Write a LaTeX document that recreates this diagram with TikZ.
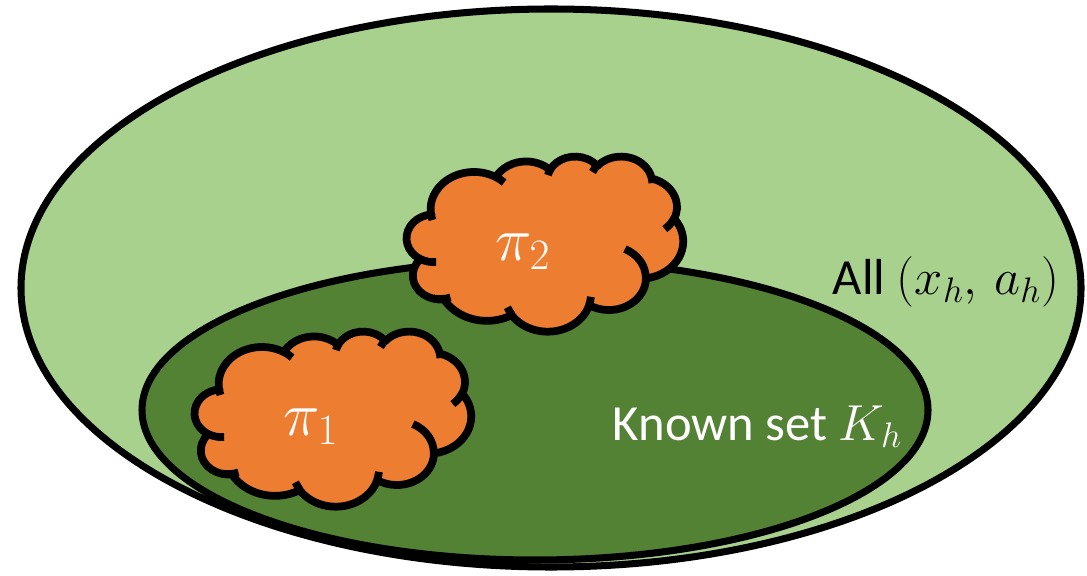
\RequirePackage{fix-cm}
\documentclass[tikz,border=0pt]{standalone}
\usepackage{fontspec}
\setmainfont{Carlito}

\definecolor{allgreen}{HTML}{A9D18E}
\definecolor{knowngreen}{HTML}{548235}
\definecolor{policyorange}{HTML}{ED7D31}

\tikzset{
    setline/.style={draw=black, line width=5pt},
    pitext/.style={text=white, font=\fontsize{44}{52}\selectfont},
    settext/.style={anchor=base west, font=\fontsize{36}{43}\selectfont},
    % cloud on a 432 x 432 box, y pointing down
    policy/.pic={
        \begin{scope}[x=0.01603cm, y=-0.01013cm, line width=5.5pt, line join=round]
            \filldraw[fill=policyorange] (39,143.7)
                arc[start angle=-187.75, end angle=-59.64, x radius=67.53, y radius=91.90]
                arc[start angle=-152.02, end angle=-45.46, x radius=53.33, y radius=72.67]
                arc[start angle=-153.49, end angle=-37.32, x radius=43.65, y radius=59.45]
                arc[start angle=-139.71, end angle=-10.21, x radius=48.57, y radius=65.95]
                arc[start angle=-74.77, end angle=23.21, x radius=53.33, y radius=72.73]
                arc[start angle=-37.52, end angle=81.86, x radius=67.75, y radius=92.20]
                arc[start angle=0.46, end angle=121.98, x radius=57.85, y radius=78.67]
                arc[start angle=16.85, end angle=146.23, x radius=67.52, y radius=92.15]
                arc[start angle=59.99, end angle=150.20, x radius=77.20, y radius=105.43]
                arc[start angle=-276.69, end angle=-136.89, x radius=43.60, y radius=59.18]
                arc[start angle=-239.64, end angle=-95.89, x radius=43.45, y radius=59.45]
                -- cycle;
            % creases between the puffs
            \draw (46.93,261.77) arc[start angle=85.55, end angle=120.36, x radius=43.45, y radius=59.45];
            \draw (69.28,348.99) arc[start angle=68.23, end angle=103.17, x radius=43.60, y radius=59.18];
            \draw (164.78,390.90) arc[start angle=146.23, end angle=158.47, x radius=67.52, y radius=92.15];
            \draw (288.27,347.51) arc[start angle=4.74, end angle=16.85, x radius=67.52, y radius=92.15];
            \draw (341.29,229.54) arc[start angle=-64.03, end angle=0.46, x radius=57.85, y radius=78.67];
            \draw (417.98,153.54) arc[start angle=23.21, end angle=49.64, x radius=53.33, y radius=72.73];
            \draw (383.24,54.26) arc[start angle=-10.21, end angle=0.82, x radius=48.57, y radius=65.95];
            \draw (290.78,39.52) arc[start angle=-156.28, end angle=-139.71, x radius=48.57, y radius=65.95];
            \draw (221.41,47.20) arc[start angle=-167.73, end angle=-153.49, x radius=43.65, y radius=59.45];
            \draw (140.00,51.92) arc[start angle=-59.64, end angle=-45.73, x radius=67.53, y radius=91.90];
            \draw (41.27,157.89) arc[start angle=163.19, end angle=172.26, x radius=67.53, y radius=91.90];
            \node[pitext] (-label) at (182,236) {$\pi_{#1}$};
        \end{scope}
    }
}

\begin{document}
\begin{tikzpicture}
    \useasboundingbox (0,0) rectangle (27.175,14.375);

    % All state-action pairs
    \draw[setline, fill=allgreen] (13.775,7.175) ellipse [x radius=13.25, y radius=6.975];
    % Known set sits at the bottom of it
    \draw[setline, fill=knowngreen] (13.375,4.125) ellipse [x radius=9.825, y radius=3.75];

    % Two policies
    \pic (pol2) at (10.15,10.475) {policy=2};
    \pic (pol1) at (4.85,6.1) {policy=1};

    % Set labels
    \node[settext] (all) at (20.7,7.0) {All $(x_h,\, a_h)$};
    \node[settext, text=white] (known) at (15.2,3.375) {Known set $K_h$};
\end{tikzpicture}
\end{document}
